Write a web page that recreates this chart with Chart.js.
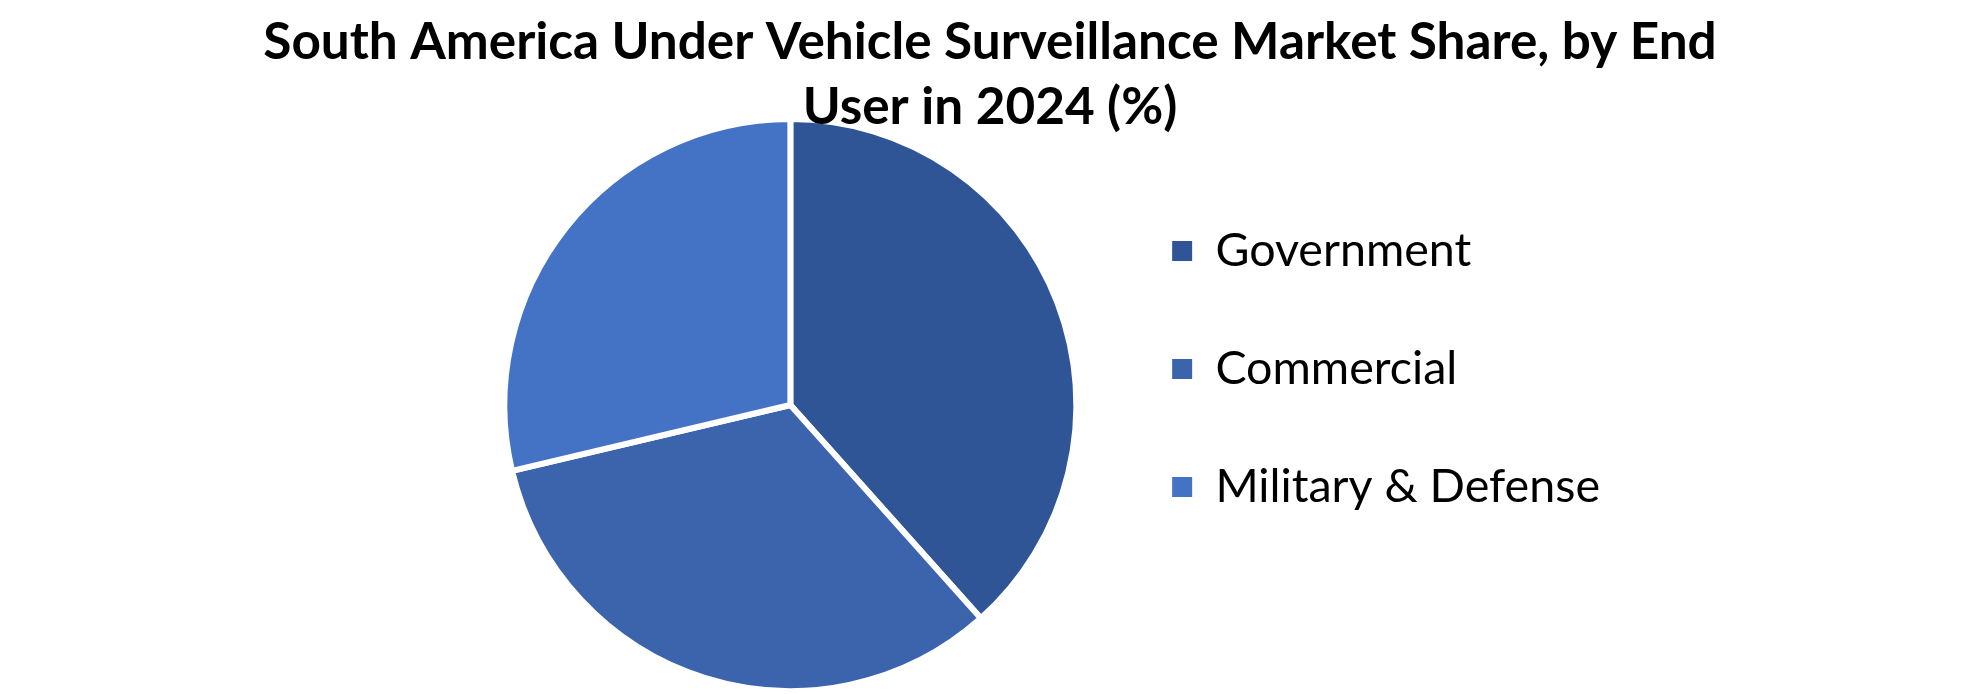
<!DOCTYPE html>
<html>
<head>
<meta charset="utf-8">
<script src="https://cdn.jsdelivr.net/npm/chart.js@4.4.1/dist/chart.umd.min.js"></script>
<style>
html,body{margin:0;padding:0;background:#fff;}
#wrap{position:relative;width:1980px;height:694px;}
</style>
</head>
<body>
<div id="wrap"><canvas id="c" width="1980" height="694"></canvas></div>
<script>
const titleLines = ["South America Under Vehicle Surveillance Market Share, by End", "User in 2024 (%)"];
const categories = ["Government", "Commercial", "Military & Defense"];
const shareValues = [38.4, 32.9, 28.7];
const sliceColors = ["#2F5597", "#3C64AD", "#4472C4"];

// title spans the whole canvas width and is drawn above the pie
const titleOnTop = {
  id: 'titleOnTop',
  beforeLayout(chart) {
    const t = chart.titleBlock;
    if (t) t._layers = () => [{ z: 1, draw: (area) => t.draw(area) }];
  },
  afterLayout(chart) {
    const t = chart.titleBlock;
    if (t) { t.left = 0; t.right = chart.width; t.width = chart.width; }
  }
};

const chart = new Chart(document.getElementById('c'), {
  type: 'pie',
  data: {
    labels: categories,
    datasets: [{
      data: shareValues,
      backgroundColor: sliceColors,
      borderColor: '#ffffff',
      borderWidth: 6
    }]
  },
  options: {
    responsive: false,
    animation: false,
    devicePixelRatio: 1,
    layout: { padding: { left: 480, right: 370, top: 0, bottom: 0 } },
    plugins: {
      tooltip: { enabled: false },
      title: {
        display: true,
        text: titleLines,
        color: '#000',
        font: { family: 'Lato', weight: 'bold', size: 51.3, lineHeight: 1.267 },
        padding: { top: 10.4, bottom: -24.4 }
      },
      legend: {
        position: 'right',
        title: { display: true, text: '', font: { size: 1, lineHeight: 1 }, padding: { top: 43, bottom: 0 } },
        labels: {
          boxWidth: 20, boxHeight: 20,
          color: '#000',
          padding: 71.4,
          font: { family: 'Lato', size: 46.6 },
          generateLabels: (ch) => Chart.overrides.pie.plugins.legend.labels.generateLabels(ch).map(it => Object.assign(it, { strokeStyle: it.fillStyle, lineWidth: 0 }))
        }
      }
    }
  },
  plugins: [titleOnTop]
});
</script>
</body>
</html>
